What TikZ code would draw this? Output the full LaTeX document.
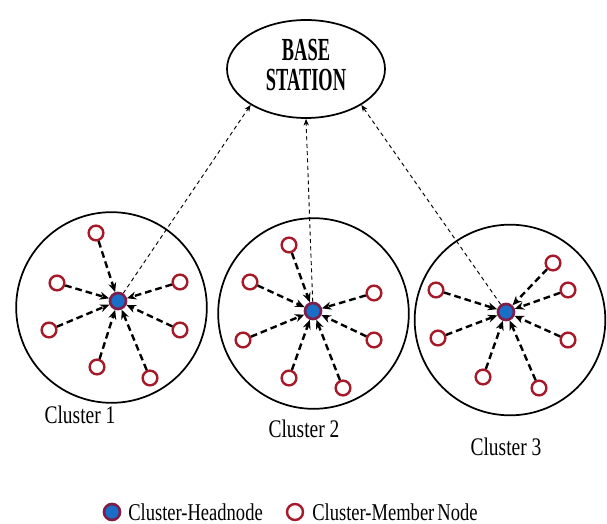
\documentclass[tikz,border=0pt]{standalone}
\usepackage{graphicx}
\usepackage{fontspec}
\setmainfont{Liberation Serif}
\usetikzlibrary{positioning,calc,arrows.meta,shapes.geometric}
\tikzset{>=stealth}
\definecolor{memberred}{RGB}{165,25,40}
\definecolor{headblue}{RGB}{25,110,200}
\definecolor{headrim}{RGB}{125,30,75}
\tikzset{
  member/.style={circle,draw=memberred,line width=1.8pt,minimum size=11pt,inner sep=0pt},
  head/.style={circle,draw=headrim,fill=headblue,line width=2pt,minimum size=12pt,inner sep=0pt},
  cluster/.style={circle,draw,line width=1.3pt,minimum size=143pt,inner sep=0pt},
  tohead/.style={-{Stealth[length=7pt,width=6pt]},line width=1.8pt,dash pattern=on 5pt off 3pt},
  tobase/.style={-{Stealth[length=5pt,width=4pt]},line width=.7pt,dash pattern=on 3pt off 2.5pt},
  clabel/.style={inner sep=0pt,font=\fontsize{14.6}{17}\selectfont},
  legtext/.style={inner sep=0pt,anchor=west,font=\fontsize{13.9}{16}\selectfont},
}

\begin{document}
\begin{tikzpicture}[x=0.75pt,y=-0.75pt]
\useasboundingbox (0,0) rectangle (607,524);
% base station
\node[ellipse,draw,line width=1.3pt,minimum width=118.5pt,minimum height=73.5pt,inner sep=0pt] (BS) at (306,69)
  {\raisebox{2pt}{\scalebox{1}[1.75]{\fontsize{13.8}{12.3}\selectfont\bfseries\begin{tabular}{@{}c@{}}BASE\\STATION\end{tabular}}}};
% clusters
\node[cluster] (C1) at (111.5,307.5) {};
\node[cluster] (C2) at (313.5,313.5) {};
\node[cluster] (C3) at (510,320) {};
\node[head] (H1) at (118,301) {};
\node[head] (H2) at (313,311) {};
\node[head] (H3) at (506,312) {};
\foreach \n/\x/\y in {a/96/233,b/57/283,c/49/330,d/180/282,e/180/330,f/97/367,g/150/378}{
  \node[member] (M1\n) at (\x,\y) {};
  \draw[tohead] (M1\n) -- (H1);
}
\foreach \n/\x/\y in {a/289/245,b/250/282,c/243/340,d/374/293,e/374/340,f/289/378,g/343/388}{
  \node[member] (M2\n) at (\x,\y) {};
  \draw[tohead] (M2\n) -- (H2);
}
\foreach \n/\x/\y in {a/553/263,b/436/290,c/438/338,d/568/290,e/568/340,f/483/377,g/539/388}{
  \node[member] (M3\n) at (\x,\y) {};
  \draw[tohead] (M3\n) -- (H3);
}
% links to the base station
\draw[tobase] (H1) -- (BS.213);
\draw[tobase] (H2) -- (BS.270);
\draw[tobase] (H3) -- (BS.327);
\node[clabel] (L1) at (80,415) {\scalebox{1}[1.3]{Cluster 1}};
\node[clabel] (L2) at (304,429) {\scalebox{1}[1.3]{Cluster 2}};
\node[clabel] (L3) at (506,447) {\scalebox{1}[1.3]{Cluster 3}};
% legend
\node[head,minimum size=12pt] (KH) at (112,512) {};
\node[legtext] (KHt) at (128,512) {\scalebox{1}[1.3]{Cluster-Headnode}};
\node[member,minimum size=12pt] (KM) at (295,512) {};
\node[legtext] (KMt) at (312,512) {\scalebox{1}[1.3]{Cluster-Member\,Node}};
\end{tikzpicture}
\end{document}
